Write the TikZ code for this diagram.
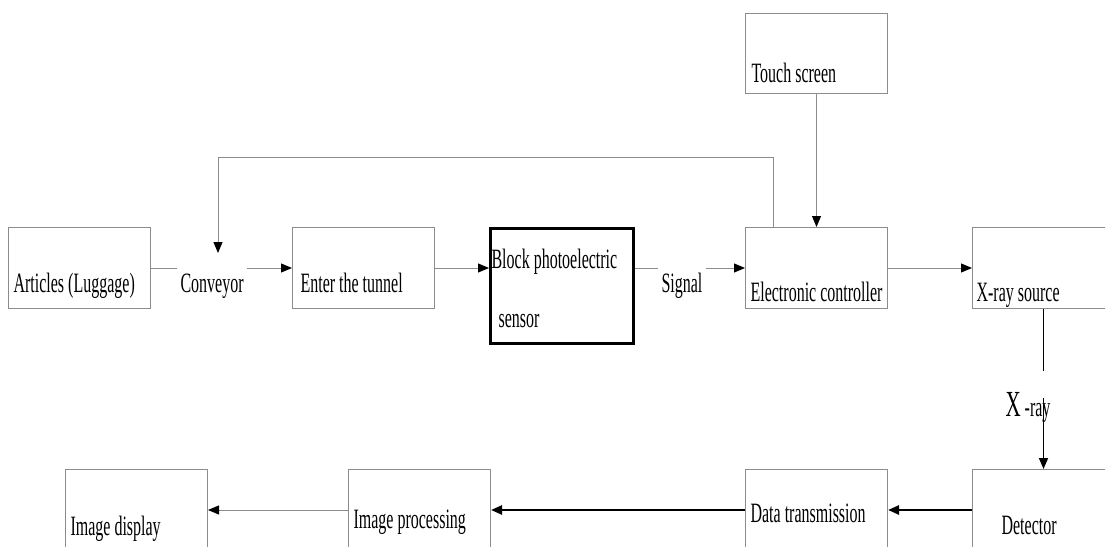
\documentclass[tikz,border=0pt]{standalone}
\usepackage{fontspec}
\setmainfont{Liberation Serif}
\usepackage{graphicx}
\usetikzlibrary{arrows.meta,calc}

\definecolor{lineGray}{gray}{0.55}
\newcommand{\tallText}[1]{\scalebox{1}[1.75]{#1}}

\tikzset{
	box/.style={draw=lineGray,line width=1pt,anchor=north west,minimum width=142pt,minimum height=81pt,inner sep=0pt},
	thickbox/.style={box,draw=black,line width=2.6pt,minimum width=143pt,minimum height=115pt},
	txt/.style={anchor=base west,font=\fontsize{16}{18}\selectfont},
	wire/.style={draw=lineGray,line width=1pt},
	arr/.style={wire,-{Triangle[length=11pt,width=9pt,color=black]}},
	xarr/.style={draw=black,line width=1.6pt,-{Triangle[length=11pt,width=9pt]}},
	heavyarr/.style={draw=black,line width=2.4pt,-{Triangle[length=11pt,width=9pt]}},
}

\begin{document}
\begin{tikzpicture}[x=1pt,y=-1pt]
		\useasboundingbox (0,0) rectangle (1105,546);
		\clip (0,0) rectangle (1105,546);
		
		% boxes
		\node[box] (articles) at (8,227) {};
		\node[box] (tunnel) at (292,227) {};
		\node[thickbox] (block) at (489,227) {};
		\node[box,minimum height=80pt] (touch) at (745,13) {};
		\node[box] (elec) at (745,227) {};
		\node[box] (xray) at (972,227) {};
		\node[box] (detector) at (972,469) {};
		\node[box] (datatx) at (745,469) {};
		\node[box] (improc) at (348,469) {};
		\node[box] (imdisp) at (65,469) {};
		
		% texts
		\node[txt] at (10,292) {\tallText{Articles (Luggage)}};
		\node[txt] (conveyor) at (177,292) {\tallText{Conveyor}};
		\node[txt] at (297,292) {\tallText{Enter the tunnel}};
		\node[txt] at (488,268) {\tallText{Block photoelectric}};
		\node[txt] at (495,327) {\tallText{sensor}};
		\node[txt] (signal) at (658,292) {\tallText{Signal}};
		\node[txt] at (748,82) {\tallText{Touch screen}};
		\node[txt] at (747,301) {\tallText{Electronic controller}};
		\node[txt] at (973,301) {\tallText{X-ray source}};
		\node[txt] (xlabel) at (1002,416) {\tallText{{\fontsize{21}{21}\selectfont X} -ray}};
		\node[txt] at (998,534) {\tallText{Detector}};
		\node[txt] at (747,522) {\tallText{Data transmission}};
		\node[txt] at (350,528) {\tallText{Image processing}};
		\node[txt] at (67,535) {\tallText{Image display}};
		
		% top row
		\draw[wire] (articles.east) -- (articles.east -| conveyor.west);
		\draw[arr] (conveyor.east |- tunnel.west) -- (tunnel.west);
		\draw[arr] (tunnel.east) -- (tunnel.east -| block.west);
		\draw[wire] (block.east |- tunnel.east) -- (signal.west |- tunnel.east);
		\draw[arr] (signal.east |- elec.west) -- (elec.west);
		\draw[arr] (elec) -- (xray);
		\draw[arr] (touch) -- (elec);
		
		% feedback to conveyor
		\coordinate (loopTop) at (218,157);
		\coordinate (loopEnd) at (218,253);
		\draw[arr] ([xshift=28pt]elec.north west) |- (loopTop) -- (loopEnd);
		
		% x-ray path
		\draw[xarr,-] (xray.south) -- ++(0,62);
		\draw[xarr] ([yshift=71pt]detector.north) -- (detector.north);
		
		% bottom row
		\draw[heavyarr] (detector) -- (datatx);
		\draw[heavyarr] (datatx) -- (improc);
		\draw[arr] (improc) -- (imdisp);
\end{tikzpicture}
\end{document}
